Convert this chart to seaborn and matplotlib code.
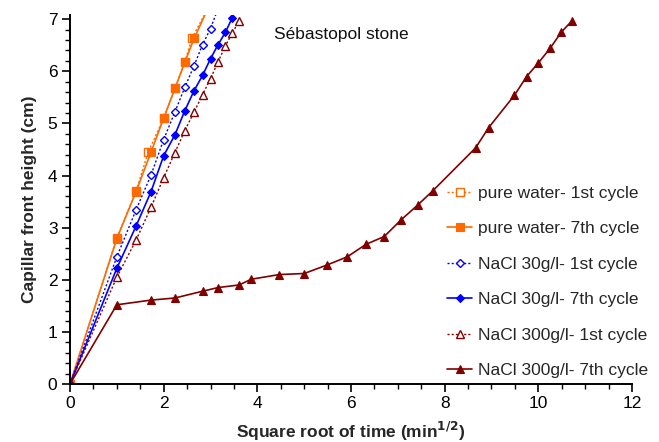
import matplotlib
matplotlib.use("Agg")
import matplotlib.pyplot as plt
from matplotlib.ticker import MultipleLocator
import seaborn as sns
import pandas as pd

# Capillary rise in Sébastopol stone, height vs square root of time
water_1st_x = [0, 1.0, 1.41, 1.67, 2.0, 2.24, 2.45, 2.6, 2.94]
water_1st_y = [0, 2.8, 3.7, 4.45, 5.1, 5.67, 6.17, 6.63, 7.2]

water_7th_x = [0, 1.0, 1.41, 1.73, 2.0, 2.24, 2.45, 2.65, 2.94]
water_7th_y = [0, 2.79, 3.69, 4.45, 5.1, 5.67, 6.17, 6.63, 7.2]

nacl30_1st_x = [0, 1.0, 1.41, 1.73, 2.0, 2.24, 2.45, 2.65, 2.83, 3.0, 3.16]
nacl30_1st_y = [0, 2.44, 3.34, 4.01, 4.69, 5.22, 5.69, 6.11, 6.51, 6.82, 7.2]

nacl30_7th_x = [0, 1.0, 1.41, 1.73, 2.0, 2.24, 2.45, 2.65, 2.83, 3.0, 3.16, 3.32, 3.46]
nacl30_7th_y = [0, 2.22, 3.03, 3.69, 4.38, 4.78, 5.24, 5.63, 5.92, 6.24, 6.51, 6.75, 7.02]

nacl300_1st_x = [0, 1.0, 1.41, 1.73, 2.0, 2.24, 2.45, 2.65, 2.83, 3.0, 3.16, 3.32, 3.46, 3.61]
nacl300_1st_y = [0, 2.05, 2.76, 3.39, 3.96, 4.44, 4.86, 5.22, 5.55, 5.86, 6.18, 6.49, 6.73, 6.96]

nacl300_7th_x = [0, 1.0, 1.73, 2.24, 2.83, 3.16, 3.61, 3.87, 4.47, 5.0, 5.48, 5.92,
                 6.32, 6.71, 7.07, 7.42, 7.75, 8.66, 8.94, 9.49, 9.75, 10.0, 10.25,
                 10.49, 10.72]
nacl300_7th_y = [0, 1.52, 1.61, 1.65, 1.78, 1.85, 1.90, 2.01, 2.10, 2.12, 2.28, 2.44,
                 2.68, 2.83, 3.15, 3.43, 3.71, 4.53, 4.92, 5.54, 5.90, 6.16, 6.44,
                 6.75, 6.97]

labels = ["pure water- 1st cycle", "pure water- 7th cycle",
          "NaCl 30g/l- 1st cycle", "NaCl 30g/l- 7th cycle",
          "NaCl 300g/l- 1st cycle", "NaCl 300g/l- 7th cycle"]

ORANGE, BLUE, BROWN = "#FF6A00", "#0000FF", "#800000"

series = [
    (water_1st_x, water_1st_y, ORANGE, "s", True),
    (water_7th_x, water_7th_y, ORANGE, "s", False),
    (nacl30_1st_x, nacl30_1st_y, BLUE, "D", True),
    (nacl30_7th_x, nacl30_7th_y, BLUE, "D", False),
    (nacl300_1st_x, nacl300_1st_y, BROWN, "^", True),
    (nacl300_7th_x, nacl300_7th_y, BROWN, "^", False),
]

sns.set_theme(style="ticks")
plt.rcParams["font.family"] = ["Liberation Sans", "DejaVu Sans"]

fig = plt.figure(figsize=(6.59, 4.42), dpi=100)
ax = fig.add_axes([70 / 659, 1 - 384 / 442, 562 / 659, 369 / 442])

for (xs, ys, color, marker, first), label in zip(series, labels):
    df = pd.DataFrame({"x": xs, "y": ys})
    size = {"s": 5.5, "D": 4.5, "^": 6}[marker]
    if first:
        style = dict(linestyle=(0, (1.5, 1.5)), linewidth=1.0,
                     markerfacecolor="white", markeredgecolor=color,
                     markeredgewidth=1.0)
    else:
        style = dict(linestyle="-", linewidth=1.2,
                     markerfacecolor=color, markeredgecolor=color,
                     markeredgewidth=0.8)
    sns.lineplot(data=df, x="x", y="y", color=color, marker=marker,
                 markersize=size, estimator=None, sort=False,
                 label=label, ax=ax, **style)

ax.set_xlim(0, 12)
ax.set_ylim(0, 7.08)
ax.xaxis.set_major_locator(MultipleLocator(2))
ax.xaxis.set_minor_locator(MultipleLocator(0.5))
ax.yaxis.set_major_locator(MultipleLocator(1))
ax.yaxis.set_minor_locator(MultipleLocator(0.2))
ax.set_yticks(range(0, 8))
ax.tick_params(which="major", direction="out", length=6, width=1.2,
               labelsize=12.5, colors="black", pad=3)
ax.tick_params(which="minor", direction="out", length=3.5, width=1.0,
               colors="black")
for side in ("top", "right"):
    ax.spines[side].set_visible(False)
for side in ("left", "bottom"):
    ax.spines[side].set_linewidth(1.4)
    ax.spines[side].set_color("black")

ax.set_xlabel(r"Square root of time (min$^{\mathbf{1/2}}$)", fontsize=12.5,
              fontweight="bold", labelpad=6)
ax.set_ylabel("Capillar front height (cm)", fontsize=12.5,
              fontweight="bold", labelpad=8)

ax.text(4.36, 6.71, "Sébastopol stone", fontsize=12.5, va="center",
        ha="left", color="#111111")

ax.legend(loc="center left", bbox_to_anchor=(447 / 659, 1 - 282 / 442),
          bbox_transform=fig.transFigure, frameon=False, fontsize=12.5,
          handlelength=1.45, handletextpad=0.35, labelspacing=1.17,
          borderpad=0, borderaxespad=0)

fig.savefig("out.png", dpi=100)
